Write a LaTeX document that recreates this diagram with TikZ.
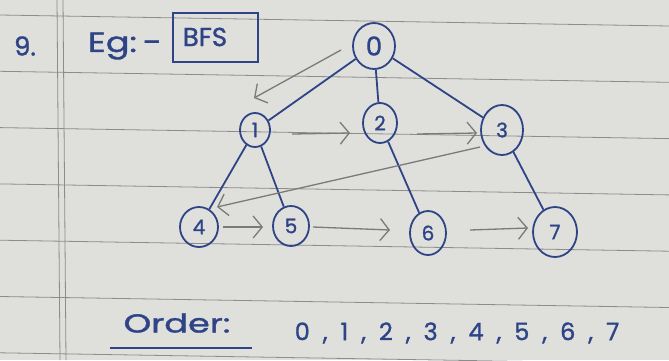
\documentclass[tikz,border=0pt]{standalone}
\usepackage{fontspec}
\setmainfont[FakeBold=1.2]{Poppins}
\usetikzlibrary{shapes.geometric,arrows.meta}
\definecolor{paper}{HTML}{DFDFDC}
\definecolor{ink}{HTML}{2E4486}
\definecolor{rulegrey}{HTML}{8C8C8C}
\definecolor{pencil}{HTML}{7A7A7A}
\begin{document}
\begin{tikzpicture}[x=1pt,y=-1pt,
  vert/.style={ellipse, draw=ink, line width=1.8pt, inner sep=0pt, text=ink,
    font=\fontsize{20}{20}\selectfont},
  edge/.style={draw=ink, line width=1.8pt},
  parrow/.style={draw=pencil, line width=1.3pt,
    -{Straight Barb[length=9pt,width=22pt,line width=1.3pt]}},
  ruling/.style={draw=rulegrey, line width=0.8pt},
  inktext/.style={text=ink, inner sep=0pt}]
\fill[paper] (0,0) rectangle (669,360);
\useasboundingbox (0,0) rectangle (669,360);
% ruled paper
\foreach \yy in {15,71.3,127.6,183.9,240.2,296.5,352.8}
  \draw[ruling] (0,\yy) -- (669,\yy+11);
\draw[ruling] (57,0) -- (60,360);
\draw[ruling] (63,0) -- (66,360);
% heading
\node[inktext, font=\fontsize{26}{26}\selectfont] (num) at (25,46) {9.};
\node[inktext, font=\fontsize{28}{28}\selectfont] (eg) at (125,46) {\scalebox{1.25}[1]{Eg:\,-}};
\node[draw=ink, line width=1.6pt, minimum width=85pt, minimum height=49pt, inner sep=0pt] (box) at (215.5,37.5) {};
\node[inktext, font=\fontsize{26}{26}\selectfont] (bfs) at (205,37) {BFS};
% vertices
\node[vert, minimum width=42pt, minimum height=46pt, font=\fontsize{26}{26}\selectfont] (n0) at (374,46) {0};
\node[vert, minimum width=30pt, minimum height=34pt] (n1) at (255,130) {1};
\node[vert, minimum width=34pt, minimum height=40pt] (n2) at (380,123) {2};
\node[vert, minimum width=42pt, minimum height=50pt] (n3) at (502,130) {3};
\node[vert, minimum width=38pt, minimum height=40pt] (n4) at (199,227) {4};
\node[vert, minimum width=36pt, minimum height=40pt] (n5) at (291,226) {5};
\node[vert, minimum width=36pt, minimum height=44pt] (n6) at (428,233) {6};
\node[vert, minimum width=44pt, minimum height=50pt] (n7) at (555,232) {7};
% tree edges
\draw[edge] (n0) -- (n1);
\draw[edge] (n0) -- (n2);
\draw[edge] (n0) -- (n3);
\draw[edge] (n1) -- (n4);
\draw[edge] (n1) -- (n5);
\draw[edge] (n2) -- (n6);
\draw[edge] (n3) -- (n7);
% pencil traversal arrows
\coordinate (a0s) at (341,50);  \coordinate (a0e) at (254,98);
\coordinate (a1s) at (292,134); \coordinate (a1e) at (350,133);
\coordinate (a2s) at (417,134); \coordinate (a2e) at (477,133);
\coordinate (a3s) at (480,147); \coordinate (a3e) at (217,207);
\coordinate (a4s) at (223,227); \coordinate (a4e) at (263,227);
\coordinate (a5s) at (313,227); \coordinate (a5e) at (390,230);
\coordinate (a6s) at (470,230); \coordinate (a6e) at (528,228);
\draw[parrow] (a0s) -- (a0e);
\draw[parrow] (a1s) -- (a1e);
\draw[parrow] (a2s) -- (a2e);
\draw[parrow] (a3s) -- (a3e);
\draw[parrow] (a4s) -- (a4e);
\draw[parrow] (a5s) -- (a5e);
\draw[parrow] (a6s) -- (a6e);
% order line
\node[inktext, font=\fontsize{26}{26}\selectfont] (order) at (177,323) {\scalebox{1.35}[1]{Order:}};
\draw[ink, line width=1.6pt] (110,348) -- (252,348);
\node[inktext, font=\fontsize{24}{24}\selectfont] (seq) at (457,333)
  {\spaceskip=13pt\xspaceskip=13pt 0 , 1 , 2 , 3 , 4 , 5 , 6 , 7};
\end{tikzpicture}
\end{document}
